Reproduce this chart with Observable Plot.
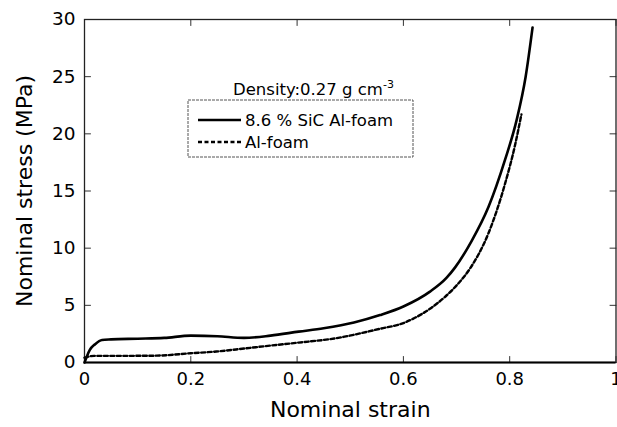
<!DOCTYPE html>
<html>
<head>
<meta charset="utf-8">
<script src="https://cdn.jsdelivr.net/npm/d3@7"></script>
<script src="https://cdn.jsdelivr.net/npm/@observablehq/plot@0.6"></script>
<style>
  html, body { margin: 0; padding: 0; background: #fff; }
  #chart { position: relative; width: 617px; height: 427px; }
  svg { font-family: "DejaVu Sans", sans-serif; }
</style>
</head>
<body>
<div id="chart"></div>
<script>
// ---- data ----
const sicStrain = [0, 0.005, 0.01, 0.02, 0.033, 0.05, 0.1, 0.15, 0.2, 0.25, 0.3, 0.35, 0.403, 0.45, 0.507, 0.556, 0.6, 0.65, 0.681, 0.697, 0.728, 0.76, 0.791, 0.813, 0.83, 0.843];
const sicStress = [0, 0.6, 1.1, 1.6, 1.97, 2.02, 2.08, 2.15, 2.35, 2.3, 2.15, 2.35, 2.7, 3.0, 3.5, 4.15, 4.9, 6.2, 7.4, 8.3, 10.6, 13.6, 17.7, 21.2, 25.0, 29.3];
const alStrain = [0, 0.018, 0.062, 0.136, 0.2, 0.248, 0.3, 0.35, 0.403, 0.47, 0.556, 0.6, 0.618, 0.65, 0.681, 0.705, 0.725, 0.76, 0.791, 0.81, 0.822];
const alStress = [0.43, 0.58, 0.58, 0.6, 0.81, 0.96, 1.22, 1.48, 1.74, 2.1, 2.95, 3.45, 3.82, 4.7, 5.86, 7.0, 8.2, 11.3, 15.6, 19.0, 21.7];
const seriesNames = ["8.6 % SiC Al-foam", "Al-foam"];
const xTicks = [0, 0.2, 0.4, 0.6, 0.8, 1];
const yTicks = [0, 5, 10, 15, 20, 25, 30];
const xTickLabels = ["0", "0.2", "0.4", "0.6", "0.8", "1"];
const yTickLabels = ["0", "5", "10", "15", "20", "25", "30"];
const xTitle = "Nominal strain";
const yTitle = "Nominal stress (MPa)";
const densityNote = "Density:0.27 g cm";
const densitySup = "-3";

const sic = sicStrain.map((x, i) => ({x, y: sicStress[i]}));
const al = alStrain.map((x, i) => ({x, y: alStress[i]}));

const tickShape = { draw(ctx, l) { ctx.moveTo(0, 0); ctx.lineTo(0, -l); } };
const tickLen = 6;
const dash = "4,2.5";

const plot = Plot.plot({
  width: 617,
  height: 427,
  marginLeft: 84,
  marginRight: 1.5,
  marginTop: 19,
  marginBottom: 65,
  style: { fontFamily: "DejaVu Sans, sans-serif", background: "#fff", color: "#000" },
  x: { domain: [0, 1] },
  y: { domain: [0, 30] },
  marks: [
    Plot.axisX(xTicks, { tickSize: 0, tickPadding: 10, fontSize: 18, tickFormat: (d, i) => xTickLabels[i],
      label: xTitle, labelAnchor: "center", labelArrow: "none", labelOffset: 54 }),
    Plot.axisY(yTicks, { tickSize: 0, tickPadding: 9, fontSize: 18.5, tickFormat: (d, i) => yTickLabels[i],
      label: yTitle, labelAnchor: "center", labelArrow: "none", labelOffset: 68 }),
    // inward ticks
    Plot.vector(xTicks, { x: d => d, y: 0, length: tickLen, rotate: 0, anchor: "start", shape: tickShape, stroke: "#333", strokeWidth: 1 }),
    Plot.vector(xTicks, { x: d => d, y: 30, length: tickLen, rotate: 180, anchor: "start", shape: tickShape, stroke: "#333", strokeWidth: 1 }),
    Plot.vector(yTicks, { x: 0, y: d => d, length: tickLen, rotate: 90, anchor: "start", shape: tickShape, stroke: "#333", strokeWidth: 1 }),
    Plot.vector(yTicks, { x: 1, y: d => d, length: tickLen, rotate: -90, anchor: "start", shape: tickShape, stroke: "#333", strokeWidth: 1 }),
    Plot.frame({ stroke: "#222", strokeWidth: 1.3 }),
    Plot.ruleY([0], { stroke: "#000", strokeWidth: 2 }),
    Plot.line(al, { x: "x", y: "y", stroke: "#000", strokeWidth: 2.4, strokeDasharray: dash, curve: "monotone-x" }),
    Plot.line(sic, { x: "x", y: "y", stroke: "#000", strokeWidth: 2.6, curve: "monotone-x" })
  ]
});

// axis title font sizes
d3.select(plot).selectAll("g[aria-label='x-axis label'] text").attr("font-size", 22);
d3.select(plot).selectAll("g[aria-label='y-axis label'] text").attr("font-size", 22);

// legend + annotation (pixel-positioned overlay)
const svg = d3.select(plot);
const lg = svg.append("g").attr("font-family", "DejaVu Sans, sans-serif").attr("font-size", 16.5).attr("text-anchor", "start");
const note = lg.append("text").attr("x", 233).attr("y", 95).attr("fill", "#000");
note.append("tspan").text(densityNote);
note.append("tspan").attr("dy", -7).attr("font-size", 11).text(densitySup);
lg.append("rect").attr("x", 188).attr("y", 100).attr("width", 225).attr("height", 57)
  .attr("fill", "#fff").attr("stroke", "#555").attr("stroke-width", 1).attr("stroke-dasharray", "3,1");
lg.append("line").attr("x1", 198).attr("x2", 241).attr("y1", 120).attr("y2", 120).attr("stroke", "#000").attr("stroke-width", 2.6);
lg.append("line").attr("x1", 198).attr("x2", 241).attr("y1", 142).attr("y2", 142).attr("stroke", "#000").attr("stroke-width", 2.4).attr("stroke-dasharray", dash);
lg.append("text").attr("x", 245).attr("y", 126).attr("fill", "#000").text(seriesNames[0]);
lg.append("text").attr("x", 245).attr("y", 148).attr("fill", "#000").text(seriesNames[1]);

document.getElementById("chart").appendChild(plot);
</script>
</body>
</html>
